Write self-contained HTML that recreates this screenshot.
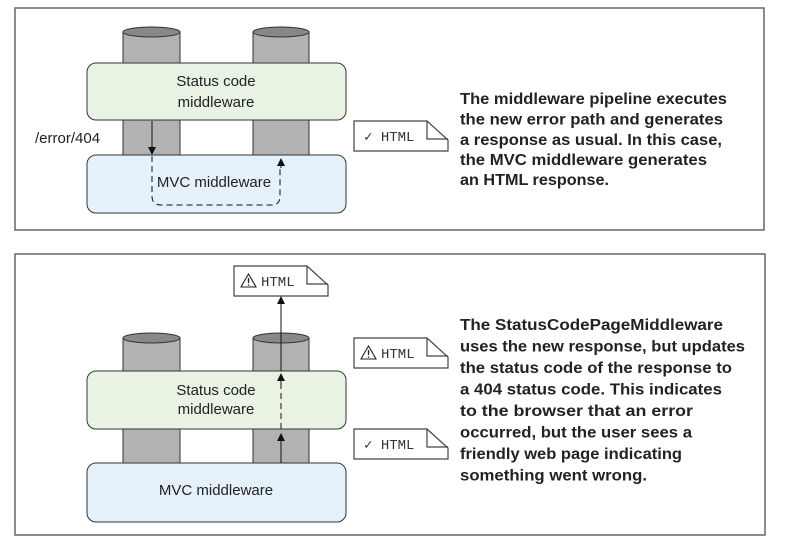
<!DOCTYPE html>
<html><head><meta charset="utf-8"><style>
html,body{margin:0;padding:0;background:#fff;}
svg{display:block;}
.t{font-family:"Liberation Sans",sans-serif;font-size:15px;fill:#222;}
.m{font-family:"Liberation Mono",monospace;font-size:14px;fill:#333;}
.b{font-family:"Liberation Sans",sans-serif;font-weight:bold;font-size:16px;fill:#222;}
</style></head><body>
<svg width="787" height="545" viewBox="0 0 787 545" xmlns="http://www.w3.org/2000/svg">
<defs>
<marker id="ah" markerWidth="8" markerHeight="10" refX="7" refY="5" orient="auto" markerUnits="userSpaceOnUse">
<path d="M0,1 L8,5 L0,9 Z" fill="#111"/>
</marker>
<g id="doc">
<path d="M0,0 L73,0 L94,19 L94,30 L0,30 Z" fill="#fff" stroke="#444" stroke-width="1.2"/>
<path d="M73,0 L73,18 L94,18" fill="none" stroke="#444" stroke-width="1.2"/>
</g>
<g id="warn">
<path d="M0,13 L7.5,0 L15,13 Z" fill="none" stroke="#222" stroke-width="1.1"/>
<line x1="7.5" y1="4" x2="7.5" y2="9" stroke="#222" stroke-width="1.3"/>
<circle cx="7.5" cy="11" r="0.8" fill="#222"/>
</g>
</defs>
<rect x="15" y="8" width="749" height="222" fill="#fff" stroke="#666" stroke-width="1.5"/>
<rect x="15" y="254" width="750" height="281" fill="#fff" stroke="#666" stroke-width="1.5"/>

<rect x="123" y="32" width="57" height="124" fill="#b2b2b2" stroke="#333" stroke-width="1"/>
<ellipse cx="151.5" cy="32" rx="28.5" ry="5" fill="#888" stroke="#333"/>
<rect x="253" y="32" width="56" height="124" fill="#b2b2b2" stroke="#333" stroke-width="1"/>
<ellipse cx="281" cy="32" rx="28" ry="5" fill="#888" stroke="#333"/>
<rect x="87" y="63" width="259" height="57" rx="9" fill="#e9f3e3" stroke="#333"/>
<text class="t" x="216" y="86" text-anchor="middle">Status code</text>
<text class="t" x="216" y="107" text-anchor="middle">middleware</text>
<rect x="87" y="155" width="259" height="58" rx="9" fill="#e5f1fa" stroke="#333"/>
<text class="t" x="214" y="187" text-anchor="middle">MVC middleware</text>
<text class="t" x="35" y="143">/error/404</text>
<line x1="152" y1="121" x2="152" y2="154" stroke="#111" stroke-width="1" marker-end="url(#ah)"/>
<path d="M152,156 L152,196 Q152,205 161,205 L272,205 Q280,205 280,196 L280,166" fill="none" stroke="#111" stroke-width="1" stroke-dasharray="6,4"/>
<line x1="281" y1="168" x2="281" y2="159" stroke="#111" stroke-width="1" marker-end="url(#ah)"/>
<use href="#doc" x="354" y="121"/>
<text class="m" x="364" y="141">✓ HTML</text>

<text class="b" x="460" y="104" textLength="267" lengthAdjust="spacingAndGlyphs">The middleware pipeline executes</text>
<text class="b" x="460" y="124.5" textLength="263" lengthAdjust="spacingAndGlyphs">the new error path and generates</text>
<text class="b" x="460" y="145" textLength="262" lengthAdjust="spacingAndGlyphs">a response as usual. In this case,</text>
<text class="b" x="460" y="165" textLength="247" lengthAdjust="spacingAndGlyphs">the MVC middleware generates</text>
<text class="b" x="460" y="185" textLength="149" lengthAdjust="spacingAndGlyphs">an HTML response.</text>

<rect x="123" y="338" width="57" height="126" fill="#b2b2b2" stroke="#333"/>
<ellipse cx="151.5" cy="338" rx="28.5" ry="5" fill="#888" stroke="#333"/>
<rect x="253" y="338" width="56" height="126" fill="#b2b2b2" stroke="#333"/>
<ellipse cx="281" cy="338" rx="28" ry="5" fill="#888" stroke="#333"/>
<rect x="87" y="371" width="259" height="58" rx="9" fill="#e9f3e3" stroke="#333"/>
<text class="t" x="216" y="395" text-anchor="middle">Status code</text>
<text class="t" x="216" y="414" text-anchor="middle">middleware</text>
<rect x="87" y="463" width="259" height="59" rx="9" fill="#e5f1fa" stroke="#333"/>
<text class="t" x="216" y="495" text-anchor="middle">MVC middleware</text>
<line x1="281" y1="463" x2="281" y2="434" stroke="#111" stroke-width="1" marker-end="url(#ah)"/>
<line x1="281" y1="429" x2="281" y2="383" stroke="#111" stroke-width="1" stroke-dasharray="6,4"/>
<line x1="281" y1="384" x2="281" y2="374" stroke="#111" stroke-width="1" marker-end="url(#ah)"/>
<line x1="281" y1="371" x2="281" y2="297" stroke="#111" stroke-width="1" marker-end="url(#ah)"/>
<use href="#doc" x="234" y="266"/>
<use href="#warn" x="241" y="274"/>
<text class="m" x="261" y="286">HTML</text>
<use href="#doc" x="354" y="338"/>
<use href="#warn" x="361" y="346"/>
<text class="m" x="381" y="358">HTML</text>
<use href="#doc" x="354" y="429"/>
<text class="m" x="364" y="449">✓ HTML</text>

<text class="b" x="460" y="330" textLength="263" lengthAdjust="spacingAndGlyphs">The StatusCodePageMiddleware</text>
<text class="b" x="460" y="351.5" textLength="285" lengthAdjust="spacingAndGlyphs">uses the new response, but updates</text>
<text class="b" x="460" y="373" textLength="272" lengthAdjust="spacingAndGlyphs">the status code of the response to</text>
<text class="b" x="460" y="394.5" textLength="262" lengthAdjust="spacingAndGlyphs">a 404 status code. This indicates</text>
<text class="b" x="460" y="416" textLength="233" lengthAdjust="spacingAndGlyphs">to the browser that an error</text>
<text class="b" x="460" y="437.5" textLength="232" lengthAdjust="spacingAndGlyphs">occurred, but the user sees a</text>
<text class="b" x="460" y="459" textLength="222" lengthAdjust="spacingAndGlyphs">friendly web page indicating</text>
<text class="b" x="460" y="480.5" textLength="187" lengthAdjust="spacingAndGlyphs">something went wrong.</text>
</svg>
</body></html>
